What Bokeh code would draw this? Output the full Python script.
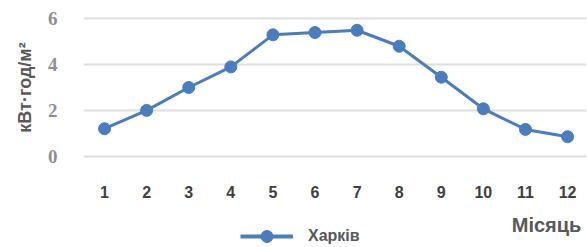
from bokeh.plotting import figure
from bokeh.models import Range1d, FixedTicker, Legend, LegendItem, Label
from bokeh.layouts import column
from bokeh.embed import file_html
from bokeh.resources import INLINE

months = [1, 2, 3, 4, 5, 6, 7, 8, 9, 10, 11, 12]
kharkiv = [1.2, 2.0, 3.0, 3.9, 5.3, 5.4, 5.5, 4.8, 3.45, 2.07, 1.17, 0.85]
y_ticks = [0, 2, 4, 6]
series_name = "Харків"
x_title = "Місяць"
y_title = "кВт·год/м²"

BLUE = "#4a7cc0"
W = 587

p = figure(width=W, height=205, output_backend="svg", toolbar_location=None,
           x_range=Range1d(0.5, 12.45), y_range=Range1d(-0.1, 6.1),
           min_border_left=83, min_border_right=1, min_border_top=16, min_border_bottom=47)
p.outline_line_color = None
p.background_fill_color = "white"
p.border_fill_color = "white"

p.xgrid.grid_line_color = None
p.ygrid.grid_line_color = "#dedede"
p.ygrid.grid_line_width = 2

p.xaxis.ticker = FixedTicker(ticks=months)
p.xaxis.axis_line_color = None
p.xaxis.major_tick_line_color = None
p.xaxis.minor_tick_line_color = None
p.xaxis.major_label_standoff = 21
p.xaxis.major_label_text_font = "Liberation Sans"
p.xaxis.major_label_text_font_style = "bold"
p.xaxis.major_label_text_font_size = "16px"
p.xaxis.major_label_text_color = "#404040"

p.yaxis.ticker = FixedTicker(ticks=y_ticks)
p.yaxis.axis_line_color = None
p.yaxis.major_tick_line_color = None
p.yaxis.minor_tick_line_color = None
p.yaxis.major_label_standoff = 20
p.yaxis.major_label_text_font = "Liberation Serif"
p.yaxis.major_label_text_font_style = "bold"
p.yaxis.major_label_text_font_size = "19px"
p.yaxis.major_label_text_color = "#8f8f8f"
p.yaxis.axis_label = y_title
p.yaxis.axis_label_standoff = 10
p.yaxis.axis_label_text_font = "Liberation Sans"
p.yaxis.axis_label_text_font_style = "bold"
p.yaxis.axis_label_text_font_size = "18px"
p.yaxis.axis_label_text_color = "#595959"

p.line(months, kharkiv, line_color=BLUE, line_width=3)
p.scatter(months, kharkiv, size=12, fill_color=BLUE, line_color=BLUE)

# bottom strip: legend and x-axis title
q = figure(width=W, height=42, output_backend="svg", toolbar_location=None,
           x_range=Range1d(0, W), y_range=Range1d(0, 42),
           min_border=0, min_border_left=0, min_border_right=0,
           min_border_top=0, min_border_bottom=0)
q.axis.visible = False
q.grid.visible = False
q.outline_line_color = None
q.background_fill_color = "white"
q.border_fill_color = "white"
# series drawn on an off-screen range so only its legend entry shows
q.extra_x_ranges = {"off": Range1d(100, 200)}
ln = q.line(months, kharkiv, line_color=BLUE, line_width=4, x_range_name="off")
sc = q.scatter(months, kharkiv, size=12, fill_color=BLUE, line_color=BLUE, x_range_name="off")
legend = Legend(items=[LegendItem(label=series_name, renderers=[ln, sc])],
                location=(157, -4), orientation="horizontal",
                glyph_width=53, glyph_height=30, label_standoff=15, label_height=16,
                padding=0, margin=0, spacing=0,
                border_line_color=None, background_fill_alpha=0,
                label_text_font="Liberation Sans", label_text_font_style="bold",
                label_text_font_size="16px", label_text_color="#595959")
q.add_layout(legend, "center")

q.add_layout(Label(x=581, y=23, text=x_title, text_align="right", text_baseline="middle",
                   text_font="Liberation Sans", text_font_style="bold",
                   text_font_size="20px", text_color="#595959"))

open("out.html", "w").write(file_html(column(p, q, spacing=0), INLINE))
